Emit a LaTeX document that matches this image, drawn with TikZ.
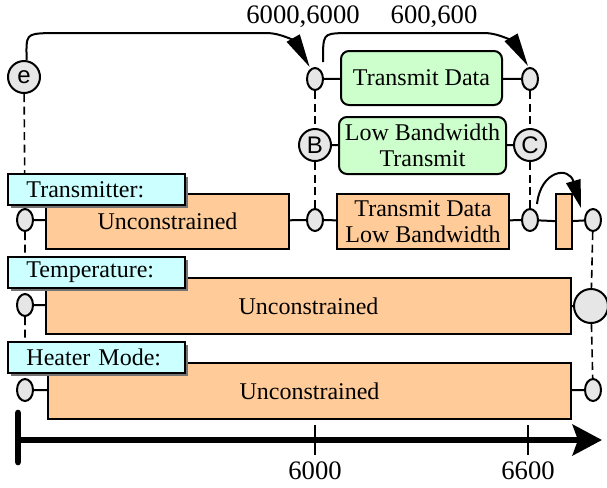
\documentclass[tikz,border=0pt]{standalone}
\usepackage{fontspec}
\setmainfont{Liberation Serif}
\newfontfamily\circfont{Liberation Sans}
\usetikzlibrary{arrows.meta,shapes.geometric,shadows,backgrounds}
\definecolor{peach}{HTML}{FFCC99}
\definecolor{mint}{HTML}{CCFFCC}
\definecolor{paleaqua}{HTML}{CCFFFF}
\definecolor{knob}{HTML}{E6E6E6}

\begin{document}
\begin{tikzpicture}[x=0.75pt,y=-0.75pt,
  every node/.style={font=\fontsize{18}{19.5}\selectfont},
  oval/.style={ellipse, draw, fill=knob, line width=1.5pt, minimum width=12pt, minimum height=16.5pt, inner sep=0pt},
  tag/.style={circle, draw, fill=knob, line width=1.5pt, inner sep=0pt, font=\circfont\fontsize{18}{18}\selectfont},
  state/.style={draw, fill=peach, line width=1.5pt, inner sep=0pt, align=center, anchor=north west},
  mode/.style={draw, fill=mint, line width=1.5pt, rounded corners=6pt, inner sep=0pt, align=center, anchor=north west},
  track/.style={draw, fill=paleaqua, line width=1.2pt, anchor=north west, minimum width=132.75pt, minimum height=23.25pt,
    inner xsep=14pt, inner ysep=0pt, text width=104.75pt, align=left,
    drop shadow={shadow xshift=2.2pt, shadow yshift=-2.2pt, fill=black!55, opacity=1}},
  link/.style={line width=1.5pt},
  guide/.style={line width=1.2pt, dash pattern=on 6pt off 3.5pt},
  hop/.style={line width=1.5pt, -{Triangle[length=25pt,width=11pt]}},
  numlabel/.style={font=\fontsize{20}{22}\selectfont},
]
\useasboundingbox (0,0) rectangle (607,487);

% upper alternatives
\node[tag, minimum size=24pt] (e) at (24,77) {e};
\node[oval] (ta) at (315,79) {};
\node[oval] (tb) at (530,79) {};
\node[mode, minimum width=161*0.75pt, minimum height=54*0.75pt] (send) at (340,50) {Transmit Data};
\node[tag, minimum size=24pt] (B) at (315,145) {B};
\node[tag, minimum size=24pt] (C) at (530,145) {C};
\node[mode, minimum width=167*0.75pt, minimum height=57*0.75pt] (lowbw) at (338,116) {Low Bandwidth\\Transmit};

% transmitter timeline
\node[oval] (r1a) at (25,220) {};
\node[state, minimum width=243*0.75pt, minimum height=55*0.75pt] (u1) at (45,193) {Unconstrained};
\node[oval] (r1b) at (315,220) {};
\node[state, minimum width=172*0.75pt, minimum height=55*0.75pt] (tx) at (336,193) {Transmit Data\\Low Bandwidth};
\node[oval] (r1c) at (530,220) {};
\node[state, minimum width=16*0.75pt, minimum height=55*0.75pt] (blip) at (555,193) {};
\node[oval] (r1d) at (593,220) {};
\node[track] (L1) at (7,173) {Transmitter:};

% temperature timeline
\node[oval] (r2a) at (25,305) {};
\node[state, minimum width=525*0.75pt, minimum height=56*0.75pt] (u2) at (45,277) {Unconstrained};
\node[tag, minimum size=25.5pt] (big) at (591,306) {};
\node[track] (L2) at (7,256) {Temperature:};

% heater mode timeline
\node[oval] (r3a) at (25,390) {};
\node[state, minimum width=523*0.75pt, minimum height=56*0.75pt] (u3) at (47,362) {Unconstrained};
\node[oval] (r3b) at (593,390) {};
\node[track] (L3) at (7,341) {Heater Mode:};

\begin{pgfonlayer}{background}
  % vertical synchronisation guides
  \draw[guide] (e) -- (r1a) -- (r2a) -- (r3a);
  \draw[guide] (ta) -- (B) -- (r1b);
  \draw[guide] (tb) -- (C) -- (r1c);
  \draw[guide] (r1d) -- (big) -- (r3b);
  % solid links between states and time points
  \draw[link] (ta) -- (send) -- (tb);
  \draw[link] (B) -- (lowbw) -- (C);
  \draw[link] (r1a) -- (u1) -- (r1b) -- (tx) -- (r1c) -- (blip) -- (r1d);
  \draw[link] (r2a) -- (u2) -- (big);
  \draw[link] (r3a) -- (u3) -- (r3b);
\end{pgfonlayer}

% duration arcs
\draw[hop] ([xshift=2pt]e.north) .. controls (26,34) .. (48,33) -- (266,33)
  .. controls (283,33) and (296,43) .. ([xshift=-4]ta.north);
\draw[hop] ([shift={(8,-5)}]ta.north) .. controls (323,34) .. (342,33) -- (484,33)
  .. controls (501,33) and (515,44) .. ([shift={(-2,-1)}]tb.north);
\draw[hop, -{Triangle[length=21pt,width=11pt]}] ([shift={(7,-4)}]r1c.north)
  .. controls (541,170) and (569,166) .. ([xshift=-9]r1d.north);
\node[numlabel] (d1) at (303,17) {6000,6000};
\node[numlabel] (d2) at (434,17) {600,600};

% time axis
\coordinate (bartop) at (18,413);
\coordinate (barbot) at (18,462);
\coordinate (axstart) at (18,440);
\coordinate (axend) at (602,440);
\draw[line width=5pt, line cap=round] (bartop) -- (barbot);
\draw[line width=4.5pt, -{Stealth[length=22pt,width=23pt,inset=4pt]}] (axstart) -- (axend);
\coordinate (k1a) at (315,425); \coordinate (k1b) at (315,455);
\coordinate (k2a) at (528,425); \coordinate (k2b) at (528,455);
\draw[line width=1.2pt] (k1a) -- (k1b);
\draw[line width=1.2pt] (k2a) -- (k2b);
\node[numlabel] (t6000) at (315,471) {6000};
\node[numlabel] (t6600) at (528,471) {6600};
\end{tikzpicture}
\end{document}
